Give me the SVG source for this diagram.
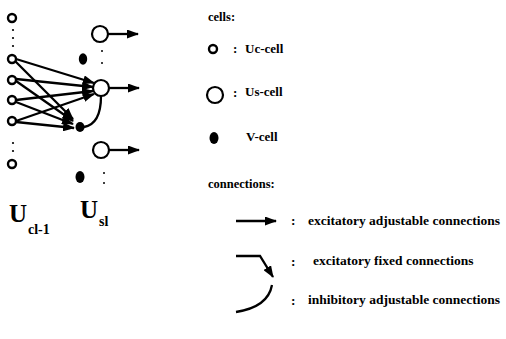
<svg xmlns="http://www.w3.org/2000/svg" width="506" height="339" viewBox="0 0 506 339">
<style>
text{font-family:"Liberation Serif","Times New Roman",serif;font-weight:bold;fill:#000}
.lg{font-size:13px}
.hd{font-size:12.5px}
.row{font-size:13.5px}
.uc{fill:#fff;stroke:#000;stroke-width:2.4}
.us{fill:#fff;stroke:#000;stroke-width:2.2}
.v{fill:#000}
.dot{fill:#000}
.ln{fill:none;stroke:#000;stroke-width:2.3}
.a{marker-end:url(#ah)}
</style>
<defs>
<marker id="ah" markerUnits="userSpaceOnUse" markerWidth="12" markerHeight="9" refX="11" refY="4.5" orient="auto">
<path d="M0,0 L12,4.5 L0,9 Z" fill="#000"/>
</marker>
</defs>
<rect width="506" height="339" fill="#fff"/>
<g id="connectors">
<line class="ln a" x1="16" y1="59" x2="94" y2="83"/>
<line class="ln a" x1="16" y1="79" x2="93" y2="87"/>
<line class="ln a" x1="16" y1="100" x2="93" y2="91"/>
<line class="ln a" x1="16" y1="121" x2="94" y2="94"/>
<line class="ln a" x1="15" y1="61" x2="73" y2="119"/>
<line class="ln a" x1="16" y1="81" x2="73" y2="121"/>
<line class="ln a" x1="16" y1="102" x2="73" y2="124"/>
<line class="ln a" x1="16" y1="122" x2="74" y2="128"/>
<path class="ln" d="M84,127 Q101,124 101,96"/>
<line class="ln a" x1="108" y1="34" x2="138" y2="34"/>
<line class="ln a" x1="109" y1="88" x2="139" y2="88"/>
<line class="ln a" x1="109" y1="150" x2="139" y2="150"/>
</g>
<g id="uc-cells">
<circle class="uc" cx="12" cy="18" r="4"/>
<circle class="dot" cx="13" cy="30" r="1.1"/><circle class="dot" cx="13" cy="38" r="1.1"/><circle class="dot" cx="13" cy="46" r="1.1"/>
<circle class="uc" cx="12" cy="59" r="4"/>
<circle class="uc" cx="12" cy="80" r="4"/>
<circle class="uc" cx="12" cy="100" r="4"/>
<circle class="uc" cx="12" cy="121" r="4"/>
<circle class="dot" cx="13" cy="143" r="1.1"/><circle class="dot" cx="13" cy="151" r="1.1"/>
<circle class="uc" cx="12" cy="164" r="4"/>
</g>
<g id="us-cells">
<circle class="us" cx="100" cy="34" r="8"/>
<circle class="dot" cx="102" cy="51" r="1"/><circle class="dot" cx="102" cy="63" r="1"/>
<circle class="us" cx="101" cy="88" r="8"/>
<circle class="us" cx="101" cy="150" r="8"/>
<circle class="dot" cx="104" cy="173" r="1"/><circle class="dot" cx="104" cy="183" r="1"/>
</g>
<g id="v-cells">
<ellipse class="v" cx="83" cy="59" rx="4.2" ry="5.8"/>
<ellipse class="v" cx="80" cy="127" rx="4.5" ry="5"/>
<ellipse class="v" cx="80" cy="177" rx="4.5" ry="6"/>
</g>
<g id="labels">
<text x="9" y="222" font-size="25">U</text>
<text x="28" y="234" font-size="14">cl-1</text>
<text x="80" y="218" font-size="25">U</text>
<text x="99" y="226" font-size="14">sl</text>
</g>
<g id="legend">
<text class="hd" x="208" y="21">cells:</text>
<circle class="uc" cx="213" cy="49" r="4"/>
<text class="lg" x="233" y="53">:</text>
<text class="lg" x="245" y="53">Uc-cell</text>
<circle class="us" cx="215" cy="95" r="8"/>
<text class="lg" x="233" y="97">:</text>
<text class="lg" x="245" y="96">Us-cell</text>
<ellipse class="v" cx="214" cy="138" rx="4.5" ry="6"/>
<text class="lg" x="246" y="141">V-cell</text>
<text class="hd" x="208" y="188">connections:</text>
<line class="ln a" x1="236" y1="221" x2="276" y2="221"/>
<text class="row" x="291" y="225">:</text>
<text class="row" x="308" y="225">excitatory adjustable connections</text>
<path class="ln a" d="M236,256 H260 L273,277"/>
<text class="row" x="291" y="266">:</text>
<text class="row" x="313" y="265">excitatory fixed connections</text>
<path class="ln" d="M236,312 Q268,307 272,285"/>
<text class="row" x="291" y="305">:</text>
<text class="row" x="308" y="304">inhibitory adjustable connections</text>
</g>
</svg>
